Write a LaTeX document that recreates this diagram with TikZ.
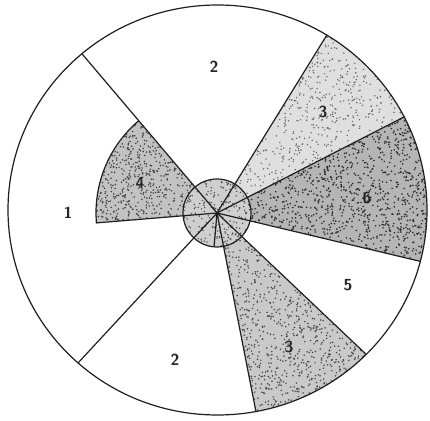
\documentclass[tikz,border=0pt]{standalone}
\usetikzlibrary{calc}
\begin{document}
\begin{tikzpicture}[x=1pt,y=1pt,
  edge/.style={draw=black!88, line width=1.2pt},
  lbl/.style={font=\fontsize{16}{19}\selectfont\sffamily\bfseries, text=black!85, inner sep=0pt},
  ]
\pgfmathsetseed{42}
\path[use as bounding box] (0,0) rectangle (430,420);
\fill[white] (0,0) rectangle (430,420);
% hub and outer end points
\coordinate (hub) at (217,207);
\coordinate (A) at (83,365);
\coordinate (B) at (325,382);
\coordinate (C) at (402,302);
\coordinate (D) at (423,158);
\coordinate (E) at (370,62);
\coordinate (F) at (257,3);
\coordinate (G) at (78,57);
\coordinate (H) at ($(hub)+(184.7:121)$);
% shaded sectors
\begin{scope}
  \clip (217.5,210) ellipse [x radius=209.5, y radius=205];
  % upper 3 (light)
  \begin{scope}
    \clip (hub) -- ($(hub)!2!(B)$) -- ($(hub)!2!(C)$) -- cycle;
    \fill[gray!25] (0,0) rectangle (430,420);
    \foreach \i in {1,...,1300}{\fill[black!60] ({313+100*rand},{300+95*rand}) circle (0.8);}
  \end{scope}
  % 6 (dark)
  \begin{scope}
    \clip (hub) -- ($(hub)!2!(C)$) -- ($(hub)!2!(D)$) -- cycle;
    \fill[gray!58] (0,0) rectangle (430,420);
    \foreach \i in {1,...,2300}{\fill[black!82] ({323+110*rand},{230+85*rand}) circle (0.9);}
  \end{scope}
  % lower 3 (medium)
  \begin{scope}
    \clip (hub) -- ($(hub)!2!(E)$) -- ($(hub)!2!(F)$) -- cycle;
    \fill[gray!42] (0,0) rectangle (430,420);
    \foreach \i in {1,...,1800}{\fill[black!72] ({296+82*rand},{103+106*rand}) circle (0.85);}
  \end{scope}
\end{scope}
% 4
\begin{scope}
  \clip (hub) -- (H) arc[start angle=184.7, end angle=130.3, radius=121] -- cycle;
  \fill[gray!48] (0,0) rectangle (430,420);
  \foreach \i in {1,...,900}{\fill[black!75] ({156+64*rand},{250+55*rand}) circle (0.85);}
\end{scope}
% inner hub disc
\begin{scope}
  \clip (hub) circle (34);
  \fill[gray!38] (hub) circle (34);
  \foreach \i in {1,...,260}{\fill[black!70] ($(hub)+({34*rand},{34*rand})$) circle (0.8);}
\end{scope}
% radial lines
\begin{scope}
  \clip (217.5,210) ellipse [x radius=209.5, y radius=205];
  \foreach \p in {A,B,C,D,E,F,G}{\draw[edge] (hub) -- ($(hub)!1.2!(\p)$);}
\end{scope}
\draw[edge] (hub) -- (H) arc[start angle=184.7, end angle=130.3, radius=121];
\draw[edge] (hub) -- +(-95:34);
\draw[edge] (hub) circle (34);
\draw[edge] (217.5,210) ellipse [x radius=209.5, y radius=205];
% labels
\node[lbl] (l2a) at (214,353) {2};
\node[lbl] (l3a) at (323,308) {3};
\node[lbl] (l6)  at (367,222) {6};
\node[lbl] (l5)  at (348,135) {5};
\node[lbl] (l3b) at (289,73)  {3};
\node[lbl] (l2b) at (175,60)  {2};
\node[lbl] (l1)  at (68,207)  {1};
\node[lbl] (l4)  at (140,237) {4};
\end{tikzpicture}
\end{document}
